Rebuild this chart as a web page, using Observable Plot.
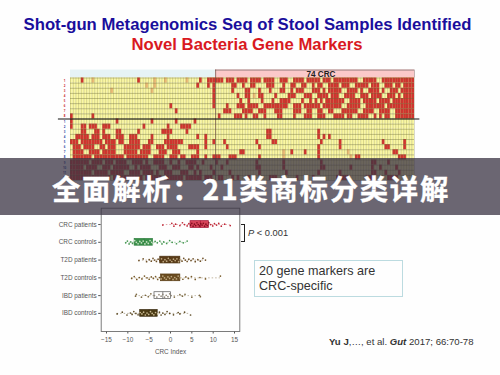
<!DOCTYPE html>
<html lang="zh">
<head>
<meta charset="utf-8">
<script src="https://cdn.jsdelivr.net/npm/d3@7"></script>
<script src="https://cdn.jsdelivr.net/npm/@observablehq/plot@0.6"></script>
<style>
html,body{margin:0;padding:0;background:#fefefe;}
#page{position:relative;width:500px;height:375px;overflow:hidden;font-family:"Liberation Sans",Arial,sans-serif;}
#page svg{position:absolute;left:0;top:0;background:transparent;overflow:visible;}
.t{position:absolute;white-space:nowrap;}
#t1{left:0;width:495px;top:15px;text-align:center;font-weight:700;font-size:16.7px;line-height:20px;color:#1a0e9c;}
#t2{left:0;width:494px;top:35px;text-align:center;font-weight:700;font-size:16.7px;line-height:20px;color:#d9191f;}
#banner{position:absolute;left:0;top:158px;width:500px;height:57px;background:rgba(57,51,67,.75);}
#bt{left:1px;width:500px;top:159px;height:57px;line-height:57px;text-align:center;color:#fff;font-family:"Noto Sans CJK SC";font-weight:700;font-size:28.4px;letter-spacing:1.7px;-webkit-text-stroke:.3px #fff;}
#brk{position:absolute;left:241px;top:224px;width:3px;height:16px;border:1.3px solid #222;border-left:none;}
#p{left:248px;top:227px;font-size:9.3px;line-height:12px;color:#333;}
#box{position:absolute;left:254px;top:260px;width:147px;height:35px;border:1px solid #bcdbe0;box-sizing:content-box;}
#note{left:259px;top:264px;font-size:12.6px;line-height:15px;color:#333;}
#cite{left:329px;top:336.5px;font-size:9.6px;line-height:10px;color:#333;}
</style>
</head>
<body>
<div id="page">
  <div class="t" id="t1">Shot-gun Metagenomics Seq of Stool Samples Identified</div>
  <div class="t" id="t2">Novel Bacteria Gene Markers</div>
  <div id="brk"></div>
  <div class="t" id="p"><i>P</i> &lt; 0.001</div>
  <div id="box"></div>
  <div class="t" id="note">20 gene markers are<br>CRC-specific</div>
  <div class="t" id="cite"><b>Yu J</b>,…, et al. <b><i>Gut</i></b> 2017; 66:70-78</div>
</div>
<script>
// Heat map: sample columns that are red in each gene-marker row
const upRows = [
  "4,25,48,51-56,58-60,62-65,67-70,72-75,78-80,83-86,88-92,94-96,98-106,109-113,116-127",
  "47,51,53,60-61,64,67-68,73-75,79,82-83,86-87,90,92-93,96-99,101-103,106-110,112-114,117-119,121-122,124-127",
  "53,60,65-66,70,74,78-79,82,84-86,90-92,94,96-100,103-106,108,111-114,116,119-121,123-127",
  "53,62,65-66,70-71,76,81-83,87-89,92-95,97-99,102-105,108-110,112-115,118-120,122,124-127",
  "53,63,66,71,75,78-81,86,89,91,93,95-101,104-107,109-113,115-118,120-127",
  "37,53,58,62-64,66-69,72-80,83-85,87-92,94-100,103-107,110-116,118-127",
  "39,57-59,64-67,70-72,76-78,83-85,88-89,92-93,96-97,101-106,109-112,115-118,121-127",
  "0,8,55,61-63,65,68-69,72,77-78,83,87-89,92-94,98-101,103-104,107-110,113,115,117-118,121-127"
];
const downRows = [
  "0,17,30,39,46",
  "0,4-5,7-9,12-14,27,36,41-44",
  "4-5,9-10,12,17-18,25,34-37,43,73-74,92",
  "2-6,8-10,12-14,17-19,22-24,30,36,47,50,73-74,92,94,96",
  "0-2,4-8,9-11,13-16,18-19,22-25,29-30,35-41,50,53,57,69,75-76,93,100,116,124",
  "1-3,5-8,11-12,14-16,20-25,27-29,32-34,36-39,44-47,50,58,70,92,100,117-118,124",
  "1-4,7-10,12-16,20-24,26-29,33-35,38-40,47,63-64,82,87,92,120-121",
  "1-7,9-19,21-28,31-34,37-39,41-42,45-47,50,53-55,59-61,70,92,106-107,122-124",
  "0-6,8-11,13-15,17-20,23-26,28,31-34,37,40,43-46,49,54,58,69,79,93,112-113,118",
  "0-4,6-9,12-14,16-21,24,26-29,33-35,38-40,44-45,47,52,56,69-70,79,93-94,104,112,115,121",
  "0-7,9-13,15-19,22-25,27-30,32,35-37,41-43,46,48,53,59,70,80,92,100,112-113,117,122",
  "0-14,16-26,28-33,35-41,43-48,50-52,55-56,60,62,66,74-76,84,90,99-103,110-112,118-121"
];
// Paler orange cells, as "row:column"
const paleCells = ["0:8","0:31","0:35","0:43","1:28","1:31","2:15","2:30","2:66","3:68","14:79","14:103","15:79","15:104"];
const sampleCount = 128;
const crcStart = 54;
const upLabels = ["1","2","3","4","5","6","7","8"];
const downLabels = ["1","2","3","4","5","6","7","8","9","10","11","12"];

// Strip plot
const groups = ["CRC patients","CRC controls","T2D patients","T2D controls","IBD patients","IBD controls"];
const boxLow  = [4.7,-8.4,-2.4,-2.2,-3.75,-7.1];
const boxMid  = [7.0,-6.2,-0.2,0.1,-1.8,-5.0];
const boxHigh = [9.0,-4.1,2.3,2.3,0.15,-3.0];
const dotColors = ["#b80f20","#2f8a3c","#5e3d10","#6a4a14","#6f5a30","#4e3a10"];
const innerColors = ["#7a0a1a","#d6ead0","#c9b48c","#c9b48c","#8a8070","#d8c8a0"];
const boxFills = ["#d8455a","#3a8f4a","#5a3c18","#6a4c20","#ffffff","#4a3a14"];
const boxStrokes = ["#a01030","#2f7f3f","#4a3010","#5a3c14","#555555","#3a2c10"];
const crcPatients = [-1.8,0.3,0.8,1.2,2.2,2.8,3.3,3.9,4.3,4.7,5.0,5.3,5.6,5.9,6.2,6.5,6.8,7.1,7.4,7.7,8.0,8.3,8.6,9.0,9.4,9.9,10.3,10.8,11.3,11.9,12.7,14.0];
const crcControls = [-10.5,-10.1,-9.7,-9.3,-8.9,-8.4,-8.0,-7.6,-7.2,-6.8,-6.4,-6.0,-5.6,-5.2,-4.8,-4.4,-4.1,-3.6,-3.1,-2.5,-2.0,-1.6,-0.9,-0.2,0.4,1.4,2.2,3.0,3.9];
const t2dPatients = [-7.4,-6.4,-5.6,-5.0,-4.5,-4.1,-3.7,-3.3,-2.9,-2.5,-2.1,-1.7,-1.3,-0.9,-0.5,-0.1,0.3,0.7,1.1,1.5,1.9,2.3,2.7,3.1,3.5,3.9,4.3,4.8,5.3,5.8,6.4,7.0,7.6,8.2];
const t2dControls = [-9.1,-8.5,-7.9,-7.3,-6.7,-6.1,-5.5,-5.0,-4.5,-4.0,-3.5,-3.0,-2.6,-2.2,-1.8,-1.4,-1.0,-0.6,-0.2,0.2,0.6,1.0,1.4,1.8,2.3,2.9,3.6,4.2,4.9,5.8,6.9,8.2,11.7];
const ibdPatients = [-8.2,-8.0,-6.8,-5.9,-5.2,-4.6,-3.75,-3.2,-2.7,-2.2,-1.8,-1.4,-1.0,-0.6,-0.2,0.15,0.9,2.2,2.8,3.4,5.0,6.8,7.0];
const ibdControls = [-12.5,-11.3,-10.2,-9.4,-9.0,-8.6,-8.1,-7.6,-7.1,-6.7,-6.3,-5.9,-5.5,-5.1,-4.7,-4.3,-3.9,-3.5,-3.0,-2.6,-2.2,-1.8,-1.3,-0.8,-0.2,0.7,1.8,2.2,3.3,4.7];
const groupValues = [crcPatients,crcControls,t2dPatients,t2dControls,ibdPatients,ibdControls];
const jitterSteps = [0.03,-0.07,0.09,-0.02,0.06,-0.1,0.0,0.08,-0.05];

const parseRuns = s => s.split(",").flatMap(part => {
  const [a, b = a] = part.split("-").map(Number);
  return d3.range(a, b + 1);
});
const red = [...upRows, ...downRows].flatMap((s, row) => parseRuns(s).map(col => ({row, col})));
const pale = paleCells.map(s => { const [row, col] = s.split(":").map(Number); return {row, col}; });
const allCells = d3.cross(d3.range(20), d3.range(sampleCount), (row, col) => ({row, col}));
const cellOpts = {x1: "col", x2: d => d.col + 1, y1: "row", y2: d => d.row + 1};
const rowLabels = [
  ...upLabels.map((t, i) => ({t, row: i + 0.5, c: "#c8232c"})),
  ...downLabels.map((t, i) => ({t, row: i + 8.5, c: "#2a3fa0"}))
];

const heat = Plot.plot({
  width: 500, height: 200, margin: 0, marginTop: 0, marginBottom: 0, marginLeft: 0, marginRight: 0,
  x: {domain: [0, sampleCount], range: [70, 414], axis: null},
  y: {domain: [0, 20], range: [77.5, 180], axis: null},
  marks: [
    Plot.rect([{a: 0, b: crcStart}], {x1: "a", x2: "b", y1: -1.55, y2: 0, fill: "#e6f3f5"}),
    Plot.rect([{a: crcStart, b: sampleCount}], {x1: "a", x2: "b", y1: -1.55, y2: 0, fill: "#fbc9c9"}),
    Plot.ruleY([-1.55], {x1: crcStart, x2: sampleCount, stroke: "#9c8080", strokeWidth: 1}),
    Plot.ruleX([sampleCount], {y1: -1.55, y2: 0, stroke: "#9c8080", strokeWidth: 0.6}),
    Plot.rect(allCells, {...cellOpts, fill: "#fbf8a2"}),
    Plot.rect(pale, {...cellOpts, fill: "#eebd78"}),
    Plot.rect(red, {...cellOpts, fill: "#d5322f"}),
    Plot.ruleX(d3.range(0, sampleCount + 1), {y1: 0, y2: 20, stroke: "#6a6a35", strokeWidth: 0.25}),
    Plot.ruleY(d3.range(0, 21), {x1: 0, x2: sampleCount, stroke: "#6a6a35", strokeWidth: 0.4}),
    Plot.ruleX([crcStart], {y1: -1.55, y2: 20, stroke: "#6a4a40", strokeWidth: 0.7}),
    Plot.ruleY([8], {x1: -4.5, x2: 130, stroke: "#111", strokeWidth: 1}),
    Plot.text(rowLabels, {x: -2.2, y: "row", text: "t", fill: "c", fontSize: 2.9, fontWeight: 700, textAnchor: "middle"}),
    Plot.text([{a: 93.2}], {x: "a", y: -0.8, text: () => "74 CRC", fontSize: 8.2, fontWeight: 700, fill: "#222", fontFamily: "Liberation Sans"})
  ]
});

const isInside = (v, g) => v >= boxLow[g] && v <= boxHigh[g];
const dots = groupValues.flatMap((vals, g) => vals.map((v, i) => ({
  v, g,
  y: g + jitterSteps[i % jitterSteps.length],
  c: isInside(v, g) ? innerColors[g] : dotColors[g]
})));
const boxes = groups.map((name, g) => ({g, lo: boxLow[g], mid: boxMid[g], hi: boxHigh[g], min: d3.min(groupValues[g]), max: d3.max(groupValues[g]), fill: boxFills[g], stroke: boxStrokes[g], c: dotColors[g]}));

const strip = Plot.plot({
  width: 500, height: 375,
  marginLeft: 100.7, marginRight: 260.7, marginTop: 207.7, marginBottom: 44,
  style: {fontFamily: "Liberation Sans", fontSize: "6.4px", color: "#555", background: "transparent"},
  x: {domain: [-16.24, 16.24], ticks: [-15, -10, -5, 0, 5, 10, 15], label: "CRC Index", labelAnchor: "center", labelArrow: "none", tickSize: 2.5, tickPadding: 3, labelOffset: 22},
  y: {domain: [-0.92, 6.02], range: [207.7, 331], ticks: [0, 1, 2, 3, 4, 5], tickFormat: i => groups[i], label: null, tickSize: 2.5, tickPadding: 2},
  marks: [
    Plot.frame({stroke: "#6e6e6e", strokeWidth: 0.9}),
    Plot.ruleY(boxes, {y: "g", x1: "min", x2: "max", stroke: "c", strokeWidth: 0.5, strokeDasharray: "1.5,2", strokeOpacity: 0.8}),
    Plot.rect(boxes, {x1: "lo", x2: "hi", y1: d => d.g - 0.19, y2: d => d.g + 0.19, fill: "fill", stroke: "stroke", strokeWidth: 0.7}),
    Plot.ruleX(boxes, {x: "mid", y1: d => d.g - 0.19, y2: d => d.g + 0.19, stroke: "stroke", strokeWidth: 0.7}),
    Plot.dot(dots, {x: "v", y: "y", r: 0.85, fill: "c", fillOpacity: 0.9})
  ]
});

const page = document.getElementById("page");
page.prepend(strip);
page.prepend(heat);
const banner = document.createElement("div");
banner.id = "banner";
page.appendChild(banner);
const bt = document.createElement("div");
bt.className = "t"; bt.id = "bt";
bt.textContent = "全面解析：21类商标分类详解";
page.appendChild(bt);
</script>
</body>
</html>
